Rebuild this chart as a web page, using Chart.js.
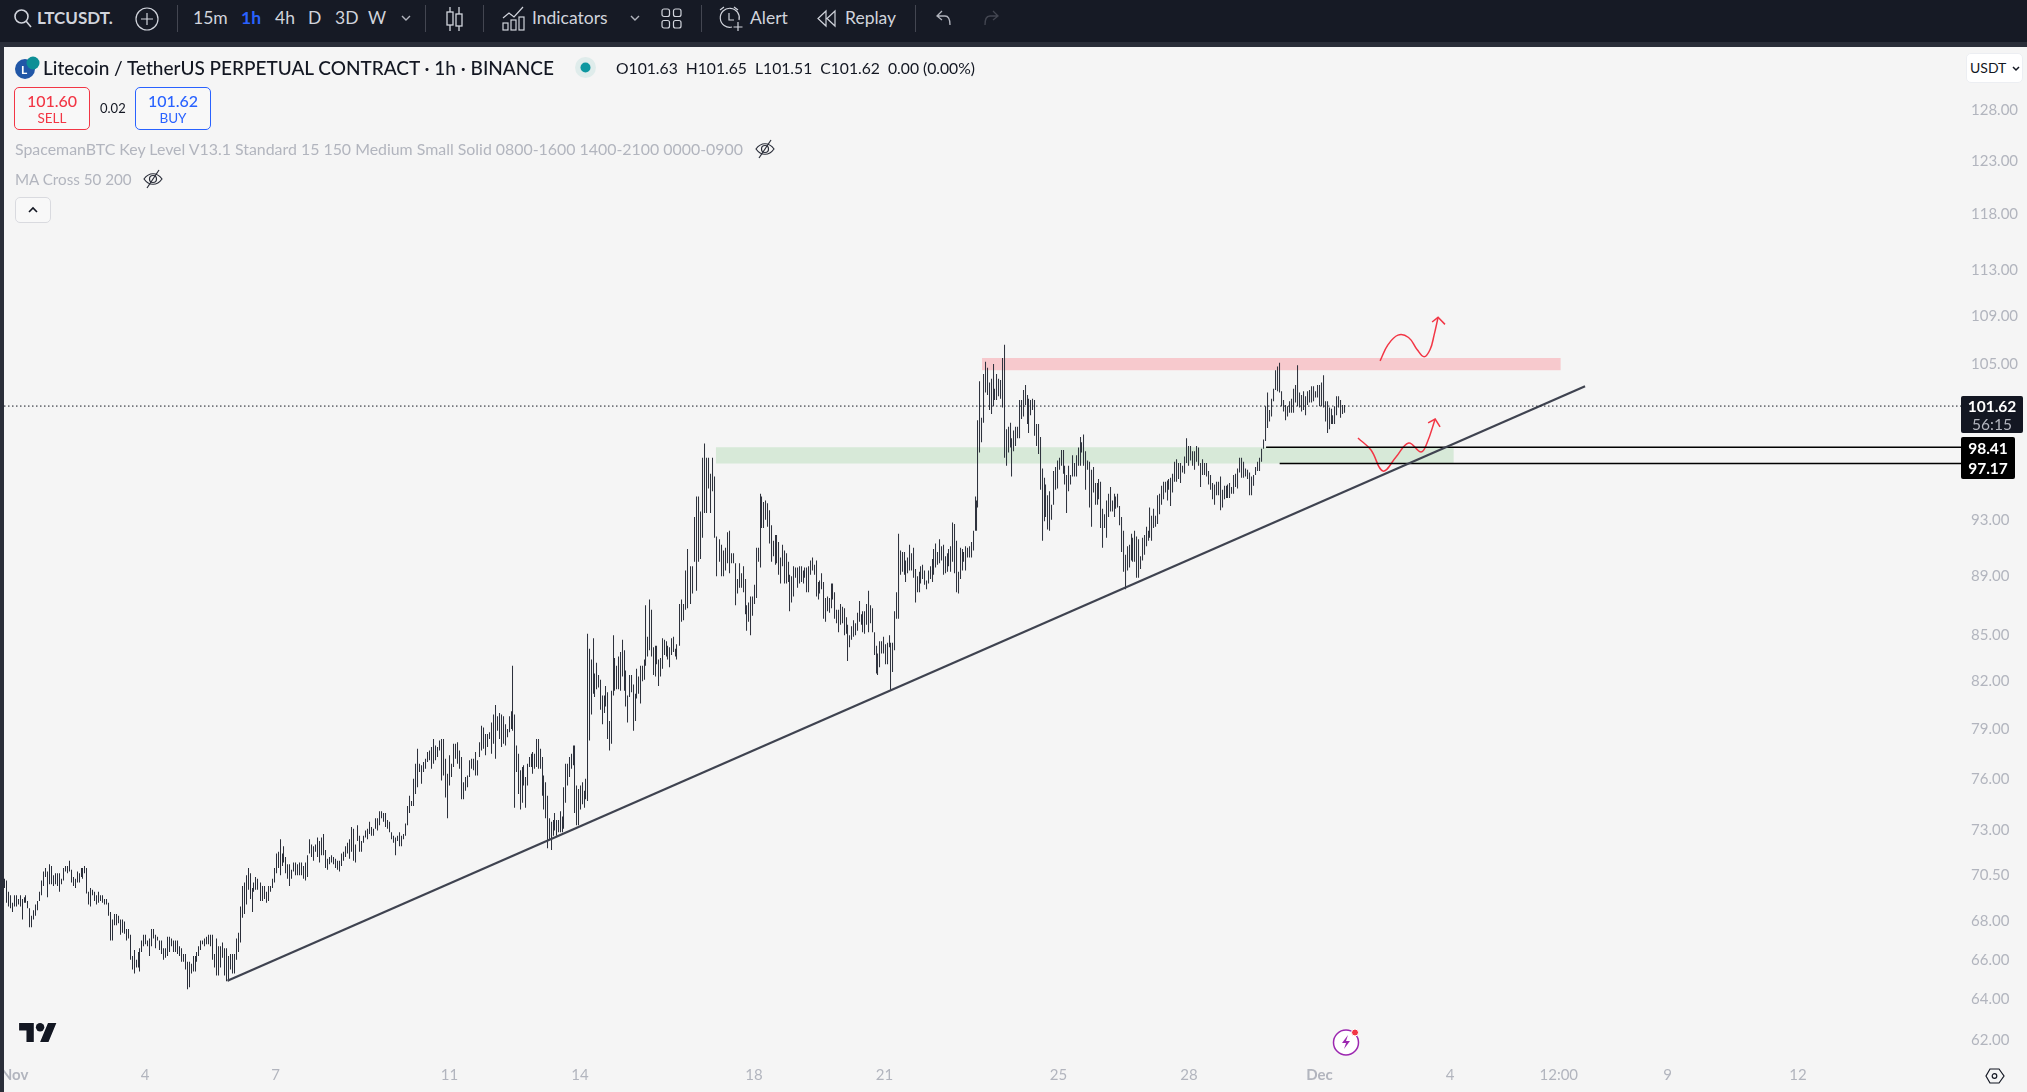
<!DOCTYPE html>
<html>
<head>
<meta charset="utf-8">
<title>LTCUSDT</title>
<script src="https://cdn.jsdelivr.net/npm/chart.js@4/dist/chart.umd.min.js"></script>
<style>
  html, body { margin: 0; padding: 0; background: #f5f5f5; overflow: hidden; }
  body { width: 2027px; height: 1092px; position: relative; font-family: Lato, "Open Sans", sans-serif; color: #131722; }
  canvas { position: absolute; left: 0; top: 0; }
  .t { position: absolute; white-space: nowrap; z-index: 3; line-height: 20px; }
  .bar-top { position: absolute; left: 0; top: 0; width: 2027px; height: 42px; background: #161a25; z-index: 2; }
  .bar-edge { position: absolute; left: 0; top: 42px; width: 2027px; height: 5px; background: #2a2e39; z-index: 2; }
  .bar-left { position: absolute; left: 0; top: 42px; width: 4px; height: 1050px; background: #2a2e39; z-index: 2; }
  .sep { position: absolute; top: 5px; width: 1px; height: 27px; background: #434651; z-index: 3; }
  .top { color: #d1d4dc; font-size: 17.500px; top: 8px; }
  .box { position: absolute; box-sizing: border-box; border-radius: 5px; z-index: 3; background: #f8f8f8; }
  .ind { color: #b2b5be; font-size: 15.900px; }
  .badge { position: absolute; z-index: 3; color: #fff; font-size: 16px; font-weight: 700; text-align: center; }
  svg { position: absolute; z-index: 3; overflow: visible; }
</style>
</head>
<body>
<canvas id="chart" width="2027" height="1092"></canvas>

<div class="bar-top"></div><div class="bar-edge"></div><div class="bar-left"></div>

<!-- toolbar -->
<svg style="left:13px;top:8px" width="20" height="20" fill="none" stroke="#d1d4dc" stroke-width="1.6"><circle cx="8.5" cy="8.5" r="6.5"/><path d="M13 13l5 6"/></svg>
<div class="t top" style="left:37px;font-weight:700;font-size:17px">LTCUSDT.</div>
<svg style="left:135px;top:7px" width="24" height="24" fill="none" stroke="#d1d4dc" stroke-width="1.2"><circle cx="12" cy="12" r="11"/><path d="M12 6v12M6 12h12"/></svg>
<div class="sep" style="left:177px"></div>
<div class="t top" style="left:193px">15m</div>
<div class="t top" style="left:241px;color:#2962ff;font-weight:700">1h</div>
<div class="t top" style="left:275px">4h</div>
<div class="t top" style="left:308px">D</div>
<div class="t top" style="left:335px">3D</div>
<div class="t top" style="left:368px">W</div>
<svg style="left:401px;top:15px" width="10" height="6" fill="none" stroke="#b2b5be" stroke-width="1.4"><path d="M1 1l4 4 4-4"/></svg>
<div class="sep" style="left:425px"></div>
<svg style="left:445px;top:6px" width="19" height="26" fill="none" stroke="#d1d4dc" stroke-width="1.3"><path d="M5 1v24M14 1v24"/><rect x="2" y="6" width="6" height="13" fill="#161a25"/><rect x="11" y="8" width="6" height="12" fill="#161a25"/></svg>
<div class="sep" style="left:483px"></div>
<svg style="left:502px;top:6px" width="23" height="25" fill="none" stroke="#d1d4dc" stroke-width="1.2"><path d="M1 12l6-5 5 4 9-10"/><rect x="1" y="17" width="5" height="7"/><rect x="9" y="14" width="5" height="10"/><rect x="17" y="11" width="5" height="13"/></svg>
<div class="t top" style="left:532px">Indicators</div>
<svg style="left:630px;top:15px" width="10" height="6" fill="none" stroke="#b2b5be" stroke-width="1.4"><path d="M1 1l4 4 4-4"/></svg>
<svg style="left:661px;top:8px" width="21" height="21" fill="none" stroke="#d1d4dc" stroke-width="1.2"><rect x="1" y="1" width="7.5" height="7.5" rx="2"/><rect x="12.5" y="1" width="7.5" height="7.5" rx="2"/><rect x="1" y="12.5" width="7.5" height="7.5" rx="2"/><rect x="12.5" y="12.5" width="7.5" height="7.5" rx="2"/></svg>
<div class="sep" style="left:701px"></div>
<svg style="left:718px;top:6px" width="25" height="26" fill="none" stroke="#d1d4dc" stroke-width="1.2"><path d="M14 21a9.5 9.5 0 1 1 7-7"/><path d="M11 7v7h5M2 4l4-3M20 4l-4-3M20 16v9M15.500 21h9"/></svg>
<div class="t top" style="left:750px">Alert</div>
<svg style="left:817px;top:10px" width="20" height="17" fill="none" stroke="#d1d4dc" stroke-width="1.2"><path d="M9 1L1 8.500 9 16zM18 1l-8 7.500 8 7.500z"/></svg>
<div class="t top" style="left:845px">Replay</div>
<div class="sep" style="left:915px"></div>
<svg style="left:936px;top:10px" width="16" height="16" fill="none" stroke="#b2b5be" stroke-width="1.3"><path d="M6 1L1 6l5 4M1 6h8c4 0 5 3 5 9"/></svg>
<svg style="left:983px;top:10px" width="16" height="16" fill="none" stroke="#434651" stroke-width="1.3"><path d="M10 1l5 5-5 4M15 6H7C3 6 2 9 2 15"/></svg>

<!-- header -->
<svg style="left:15px;top:56px" width="24" height="23"><circle cx="10" cy="13" r="10" fill="#2157a7"/><circle cx="18" cy="7" r="6.500" fill="#0d8f96"/><text x="6" y="18" fill="#fff" font-size="12" font-weight="700">L</text></svg>
<div class="t" style="left:43px;top:58px;font-size:19px;font-weight:500">Litecoin / TetherUS PERPETUAL CONTRACT · 1h · BINANCE</div>
<svg style="left:575px;top:57px" width="21" height="21"><circle cx="10.500" cy="10.500" r="10.500" fill="#dfeceb"/><circle cx="10.500" cy="10.500" r="5" fill="#0d97a0"/></svg>
<div class="t" style="left:616px;top:58px;font-size:15.700px">O101.63&nbsp; H101.65&nbsp; L101.51&nbsp; C101.62&nbsp; 0.00 (0.00%)</div>

<div class="box" style="left:14px;top:87px;width:76px;height:43px;border:1px solid #f23645"></div>
<div class="t" style="left:14px;top:91px;width:76px;text-align:center;color:#f23645;font-size:16px;font-weight:500">101.60</div>
<div class="t" style="left:14px;top:108px;width:76px;text-align:center;color:#f23645;font-size:13.500px">SELL</div>
<div class="t" style="left:100px;top:98px;font-size:13px">0.02</div>
<div class="box" style="left:135px;top:87px;width:76px;height:43px;border:1px solid #2962ff"></div>
<div class="t" style="left:135px;top:91px;width:76px;text-align:center;color:#2962ff;font-size:16px;font-weight:500">101.62</div>
<div class="t" style="left:135px;top:108px;width:76px;text-align:center;color:#2962ff;font-size:13.500px">BUY</div>

<div class="t ind" style="left:15px;top:139px">SpacemanBTC Key Level V13.1 Standard 15 150 Medium Small Solid 0800-1600 1400-2100 0000-0900</div>
<svg style="left:755px;top:139px" width="20" height="20" fill="none" stroke="#2a2e39" stroke-width="1.2"><path d="M1 10c5-7 13-7 18 0-5 7-13 7-18 0z"/><circle cx="10" cy="10" r="3.500"/><path d="M16 1L4 19"/></svg>
<div class="t ind" style="left:15px;top:169px;font-size:15.200px">MA Cross 50 200</div>
<svg style="left:143px;top:169px" width="20" height="20" fill="none" stroke="#2a2e39" stroke-width="1.2"><path d="M1 10c5-7 13-7 18 0-5 7-13 7-18 0z"/><circle cx="10" cy="10" r="3.500"/><path d="M16 1L4 19"/></svg>
<div class="box" style="left:15px;top:197px;width:36px;height:26px;border:1px solid #d9dadf"></div>
<svg style="left:28px;top:207px" width="10" height="6" fill="none" stroke="#131722" stroke-width="1.6"><path d="M1 5l4-4 4 4"/></svg>

<!-- price axis extras -->
<div class="box" style="left:1966px;top:53px;width:57px;height:30px;background:#fff;border:1px solid #eceef2"></div>
<div class="t" style="left:1970px;top:58px;font-size:14px">USDT</div>
<svg style="left:2012px;top:66px" width="8" height="5" fill="none" stroke="#131722" stroke-width="1.5"><path d="M1 1l3 3 3-3"/></svg>
<div class="badge" style="left:1961px;top:396px;width:62px;height:37px;background:#131722;border-radius:2px"></div>
<div class="t" style="left:1961px;top:396px;width:62px;text-align:center;color:#fff;font-size:15.500px;font-weight:700">101.62</div>
<div class="t" style="left:1961px;top:414px;width:62px;text-align:center;color:#b2b5be;font-size:15.500px">56:15</div>
<div class="badge" style="left:1961px;top:437px;width:54px;height:42px;background:#000;border-radius:2px"></div>
<div class="t" style="left:1961px;top:438px;width:54px;text-align:center;color:#fff;font-size:15.500px;font-weight:700">98.41</div>
<div class="t" style="left:1961px;top:458px;width:54px;text-align:center;color:#fff;font-size:15.500px;font-weight:700">97.17</div>

<!-- logo and corner icons -->
<svg style="left:19px;top:1021px" width="38" height="21" viewBox="0 0 36 20"><path d="M14 20H7V9H0V2h14zM28 20h-8l7.500-18h8z" fill="#131722" stroke="#fff" stroke-width="1" paint-order="stroke"/><circle cx="20" cy="6" r="4" fill="#131722"/></svg>
<svg style="left:1333px;top:1028px" width="27" height="28"><circle cx="13" cy="14.500" r="12.500" fill="#fff" stroke="#9c27b0" stroke-width="1.500"/><path d="M15 7l-6 8h4l-2 6 6-8h-4z" fill="#9c27b0"/><circle cx="22" cy="4.500" r="3.500" fill="#f23645" stroke="#fff"/></svg>
<svg style="left:1985px;top:1068px" width="20" height="16" fill="none" stroke="#131722" stroke-width="1.2"><path d="M5 1h9l5 7-5 7H5L1 8z"/><circle cx="9.500" cy="8" r="2.300"/></svg>

<script>
// axis labels
const priceTicks = [128, 123, 118, 113, 109, 105, 93, 89, 85, 82, 79, 76, 73, 70.5, 68, 66, 64, 62];
const timeTickHours = [0, 72, 144, 240, 312, 408, 480, 576, 648, 720, 792, 852, 912, 984]; // hours from Nov 1
const timeTickLabels = ["Nov", "4", "7", "11", "14", "18", "21", "25", "28", "Dec", "4", "12:00", "9", "12"];

// candle ranges [high, low]
const barsEarlyNov = [
  [70.3,69.8],[70.2,69.0],[69.6,68.8],[69.4,68.7],[69.0,68.5],[69.4,68.8],[69.4,68.8],[69.2,68.9],[69.4,68.8],[69.2,68.1],
  [69.3,69.0],[69.4,69.0],[69.1,68.7],[68.7,67.7],[68.3,67.7],[68.6,68.1],[68.9,68.3],[69.1,68.6],[69.6,69.1],[70.2,69.4],
  [70.7,69.9],[70.9,70.4],[70.7,69.3],[71.1,70.0],[71.0,70.0],[70.5,69.9],[70.6,70.0],[70.6,69.9],[70.6,69.6],[70.3,70.0],
  [70.9,70.2],[71.0,70.7],[71.0,70.6],[71.3,70.7],[70.8,70.1],[70.4,69.9],[70.3,69.8],[70.7,70.1],[70.6,70.1],[70.9,70.4],
  [70.9,70.3],[71.0,70.6],[70.9,69.5],[69.6,68.9],[69.8,68.8],[69.7,69.4],[69.6,69.1],[69.4,68.9],[69.6,69.0],[69.4,69.1],
  [69.4,69.0],[69.2,68.9],[69.2,68.9],[69.0,68.3],[68.5,67.0],[68.1,67.0],[68.4,67.8],[68.4,67.8],[68.3,67.9],[68.1,67.3],
  [68.1,67.4],[68.0,67.35],[67.6,67.0],[67.6,67.1],[67.3,66.0],[66.2,65.5],[66.5,65.3],[66.0,65.6],[66.4,65.6],[66.6,65.4],
  [67.0,66.4],[67.3,66.7],[67.3,66.8],[67.0,66.7],[67.1,66.2],[67.6,66.7],[67.6,67.1],[67.3,66.6],[67.2,67.0],[67.0,66.5],
  [67.0,66.3],[66.6,66.0],[66.6,66.1],[67.2,66.2],[67.2,66.4],[67.1,66.7],[67.0,66.4],[67.0,66.4],[67.0,66.3],[66.7,66.2],
  [66.6,65.9],[66.3,65.9],[66.3,65.5],[65.9,64.5],[65.9,64.6],[65.8,65.3],[66.2,65.4],[66.2,65.4],[66.4,65.9],[66.7,66.2],
  [67.0,66.5],[67.0,66.8],[67.1,66.7],[67.2,66.8],[67.3,66.8],[67.3,66.7],[67.3,66.0],[66.3,65.6],[67.1,65.2],[66.7,65.2],
  [66.7,65.6],[66.9,66.1],[66.6,65.2],[66.6,64.9],[66.2,64.9],[66.3,65.5],[66.3,65.3],[66.3,65.3],[67.1,66.0],[67.4,66.4],
  [68.8,66.9],[69.9,68.2],[70.1,68.4],[70.5,68.9],[70.9,69.7],[70.6,69.2],[69.8,68.5],[70.1,69.6],[70.4,69.7],[70.3,69.7],
];
const barsToMidNov = [
  [70.1,69.1],[69.9,69.1],[69.9,69.2],[69.6,69.0],[69.9,69.1],[69.9,69.6],[70.3,69.8],[70.9,70.1],[71.7,70.6],[71.8,70.9],
  [72.5,70.5],[71.7,71.0],[72.1,71.2],[71.5,70.6],[71.1,70.3],[71.1,69.9],[70.8,70.3],[71.2,70.7],[71.2,70.5],[71.1,70.5],
  [71.2,70.5],[71.2,70.5],[71.0,70.3],[71.2,70.2],[71.6,70.4],[72.5,71.7],[72.2,71.5],[72.1,71.3],[72.2,71.8],[72.6,71.5],
  [72.4,71.2],[72.6,71.6],[72.8,71.6],[71.9,70.9],[71.4,70.8],[71.5,71.1],[71.6,71.2],[71.5,71.1],[71.4,70.9],[71.3,70.8],
  [71.3,70.7],[71.7,71.0],[71.8,71.3],[72.1,71.5],[72.3,71.7],[72.5,71.4],[73.2,71.8],[73.1,71.3],[72.2,71.2],[73.3,72.4],
  [72.7,71.8],[72.4,71.8],[72.7,72.3],[73.0,72.6],[73.1,72.5],[73.5,72.8],[73.2,72.7],[73.1,72.7],[73.7,73.1],[73.7,73.0],
  [74.1,73.3],[74.1,73.7],[74.0,73.5],[74.0,73.2],[73.6,73.1],[73.5,72.9],[72.9,72.5],[72.7,72.3],[72.6,71.6],[72.7,72.4],
  [72.9,72.1],[72.7,72.1],[72.8,72.5],[73.4,72.7],[74.4,73.3],[75.0,74.0],[74.7,74.4],[76.0,74.4],[76.9,75.1],[77.8,75.5],
  [76.9,76.4],[76.8,75.7],[77.0,76.4],[77.2,76.6],[77.6,77.0],[77.7,77.1],[77.9,76.6],[78.4,76.9],[78.0,77.1],[77.9,77.3],
  [78.3,77.7],[78.4,75.9],[78.4,76.2],[77.2,74.9],[76.3,73.7],[77.4,75.6],[76.9,76.1],[78.1,76.7],[78.1,77.2],[78.2,76.9],
  [77.7,76.6],[77.3,74.8],[75.8,74.8],[76.1,75.3],[76.2,75.5],[77.1,76.1],[77.2,76.6],[77.2,76.5],[77.6,76.2],[77.1,76.2],
  [78.2,77.3],[79.2,77.7],[79.1,77.8],[78.7,77.4],[78.7,77.9],[78.8,78.4],[79.4,77.5],[79.9,78.1],[80.5,77.2],[79.8,78.9],
  [80.0,78.4],[79.9,77.9],[79.8,78.1],[79.3,78.0],[79.0,78.5],[79.8,78.8],[80.1,79.0],
];
const barsMidNov = [
  [83.0,78.9],[79.9,74.3],[78.0,76.4],[77.5,75.1],[76.5,74.2],[76.7,74.6],[76.8,75.6],[76.1,74.3],[76.9,75.6],[77.3,76.7],
  [77.5,76.7],[77.6,76.3],[77.5,76.6],[78.4,76.7],[78.4,76.6],[77.8,76.6],[77.3,75.0],[76.2,74.2],[75.8,73.7],[75.0,72.0],
  [73.7,72.5],[73.5,71.9],[73.6,72.7],[74.0,73.0],[73.6,72.7],[73.6,72.9],[74.1,72.9],[73.8,72.9],[75.5,73.1],[76.9,74.6],
  [76.9,75.6],[77.3,76.1],[77.5,76.6],[78.0,76.8],[78.0,74.0],[75.6,73.3],[75.4,73.3],[75.6,74.2],[75.8,74.5],[75.3,74.3],
  [76.0,74.8],[85.1,74.7],[84.1,78.3],[83.4,79.9],[84.8,81.2],[82.5,81.0],[83.2,81.5],[82.4,81.6],[82.1,80.2],[81.1,79.3],
  [81.1,80.0],[81.7,80.4],[81.3,78.4],[79.5,77.7],[81.4,78.1],[85.0,81.1],[83.5,81.4],[83.0,81.5],[83.6,81.5],[83.9,81.4],
  [84.7,82.3],[84.0,81.4],[82.7,80.4],[81.1,79.4],[82.4,81.0],[82.4,81.3],[81.8,78.9],[81.2,79.5],[82.8,80.9],[82.3,81.2],
  [83.0,80.6],[83.0,82.0],[83.4,82.1],[87.0,83.0],[84.9,83.6],[87.4,84.0],[86.7,83.6],[84.2,82.4],[84.3,82.3],[84.3,83.1],
  [83.4,81.7],[83.5,82.3],[84.8,82.8],[84.7,83.7],[84.6,83.6],[84.3,83.4],[84.2,82.9],[84.8,83.7],[84.9,83.9],[84.1,83.6],
  [84.4,83.4],
];
const barsFirstPeak = [
  [87.1,84.3],[87.4,85.9],[87.1,86.0],[89.4,86.7],[90.9,86.8],[89.7,87.1],[89.7,87.8],[93.2,90.0],[94.7,88.0],[94.7,90.0],
  [93.6,90.2],[97.6,91.7],[98.7,93.5],[97.6,93.5],[97.6,95.3],[96.4,93.5],[97.6,95.1],[96.2,91.7],[91.8,89.0],[91.6,90.0],
  [91.2,89.0],[90.8,89.0],[91.0,89.4],[92.1,89.9],[92.2,89.2],[90.6,89.9],[90.6,89.9],[89.9,87.0],[88.8,87.8],
];
const barsPullback = [
  [89.9,88.2],[89.2,88.2],[89.7,87.9],[88.8,86.4],[87.0,85.3],[87.2,85.9],[87.6,85.0],[87.6,86.3],[88.4,87.1],[91.0,87.5],
  [91.0,90.0],[94.9,89.6],[94.7,92.4],[94.3,92.4],[94.4,93.0],[94.2,92.5],[93.7,91.3],[92.6,90.0],[91.5,90.4],[91.9,89.8],
  [91.9,89.9],[91.4,89.1],[90.3,88.5],[91.2,89.7],[90.8,88.5],[90.6,88.5],[90.0,88.6],[89.1,86.6],[89.0,87.2],[89.7,87.6],
  [89.6,88.9],[89.6,88.2],[89.7,88.5],[89.7,88.6],[89.4,88.5],[89.6,88.9],[89.6,87.9],[89.7,87.9],[90.1,89.1],[90.3,89.4],
  [89.8,89.1],[90.1,87.6],[88.6,87.4],[88.7,87.8],[89.2,88.1],[88.6,86.1],[87.5,85.9],[87.6,86.6],[87.5,86.5],[88.5,86.8],
  [88.5,87.4],[87.9,86.1],[86.7,85.8],[86.7,85.2],[87.1,85.7],[86.9,85.8],[86.8,85.0],[86.2,85.1],[85.7,83.3],[85.0,84.2],
  [85.6,84.7],[86.0,84.9],[85.8,85.0],[86.5,85.3],[87.3,85.9],[86.4,85.7],[86.6,85.2],[86.6,85.1],[87.1,85.7],[88.0,85.2],
  [87.0,85.8],[86.8,85.2],[85.2,83.7],[84.3,82.5],[83.8,82.4],[84.6,82.9],[84.6,83.8],[84.9,83.8],[84.4,83.1],[84.5,83.1],
  [85.0,84.2],[84.5,81.4],[84.5,82.6],[86.6,84.0],[87.9,86.1],[92.0,86.1],[90.8,89.1],[90.7,89.3],[90.7,89.1],[90.1,88.6],
  [90.3,89.2],[91.2,89.4],[90.6,89.4],[91.0,88.9],[89.5,87.2],[89.0,87.9],[89.3,87.9],[89.7,88.5],[89.8,88.8],[89.4,88.4],
  [88.7,88.1],[89.4,88.5],[89.7,88.8],[90.2,88.6],[90.9,89.1],[91.3,89.6],[90.7,89.8],[91.6,89.9],[91.1,90.1],[91.2,89.1],
  [90.4,89.2],[90.6,89.3],[90.9,89.7],[91.1,89.3],[92.8,90.0],[92.7,89.2],[91.5,87.9],[89.3,87.8],[91.0,88.8],[90.9,89.4],
  [90.7,90.0],[91.1,89.4],[91.0,90.3],[91.1,90.3],[91.4,90.3],[92.2,90.8],[94.7,92.2],
];
const barsSecondPeak = [
  [94.4,92.2],[100.5,93.9],[103.6,98.0],[100.7,98.8],[104.2,100.3],[105.2,102.7],[104.7,102.5],[103.5,101.3],[103.8,101.0],[105.0,101.6],
  [103.0,102.1],[104.2,102.1],[103.8,102.4],[103.7,102.2],[105.5,101.5],[106.6,97.6],[99.8,97.0],[100.0,98.0],[100.3,98.4],[99.1,96.2],
  [99.7,98.1],[100.0,98.5],[100.0,99.1],[102.1,99.1],[102.1,100.6],[102.9,100.8],[103.3,101.7],[102.5,100.2],[102.2,99.5],[102.1,100.9],
  [102.2,101.3],[102.1,99.3],[100.2,98.5],[100.2,97.9],[99.2,95.2],[96.8,91.5],[96.1,92.9],[95.6,93.2],[94.8,92.3],[95.1,92.2],
  [94.1,93.0],[96.6,94.1],[96.9,95.2],[97.4,95.3],[97.6,96.7],[98.2,97.0],[98.2,96.4],[97.0,95.6],[96.3,93.5],[97.0,95.1],
  [96.3,95.6],[97.8,96.2],[97.2,96.2],[97.8,96.2],[98.4,97.0],[99.2,97.0],[98.8,98.0],[99.4,97.0],[98.1,95.2],[97.4,96.7],
  [97.3,93.9],[96.7,92.5],[96.9,95.0],[95.7,94.1],[95.7,94.1],[96.0,94.5],[95.8,92.4],[93.8,91.0],[93.4,92.4],[94.4,91.7],
  [94.9,93.2],[95.4,93.6],[94.4,93.6],[94.9,93.2],[94.7,93.8],[94.9,93.9],[94.0,92.6],[93.2,90.7],[92.2,89.3],[90.5,88.1],
  [91.1,89.4],[91.2,89.6],[92.0,90.1],[91.7,90.0],[92.2,90.0],[91.8,88.9],[91.6,88.9],[90.4,89.5],[91.7,90.1],[91.9,90.5],
  [92.5,91.1],[92.2,91.5],[93.9,91.7],[93.3,91.5],[93.8,92.4],[93.3,92.5],[94.8,92.7],[94.9,93.4],[95.5,94.1],[95.8,94.5],
  [95.8,95.0],[95.9,94.4],[96.0,95.2],[96.1,94.0],[96.4,95.0],
];
const barsLateNov = [
  [97.3,95.8],[97.5,95.8],[97.2,96.0],[97.2,95.7],[97.0,96.5],[97.7,96.4],[99.1,97.2],[98.5,97.0],[98.5,97.4],[98.1,97.0],
  [98.1,96.7],[98.5,97.3],[98.4,97.0],[97.2,95.4],[97.5,96.3],[97.2,96.3],[97.2,96.2],[96.6,95.6],[96.3,95.2],[95.7,94.5],
  [95.6,94.1],[95.8,94.8],[95.8,94.8],[96.2,93.7],[95.2,93.9],[95.5,94.5],[95.5,94.6],[95.6,94.6],[95.7,94.6],[95.4,94.9],
  [96.3,94.9],[96.4,95.4],[96.8,95.3],[97.6,96.5],[97.6,96.1],[97.3,96.1],[96.8,96.2],[96.7,96.0],[96.5,94.8],[96.2,94.8],
  [96.3,95.5],[96.9,96.3],[97.3,96.6],[97.6,96.6],[98.3,97.3],[99.0,98.3],[101.6,98.9],[102.7,99.9],[101.3,100.4],[102.2,100.8],
  [103.0,102.0],[104.5,102.9],[104.8,102.8],[105.1,102.7],[102.8,101.6],[102.1,101.2],[101.7,100.5],[101.6,100.8],[102.0,101.1],[102.2,101.1],
  [103.0,101.1],[103.3,101.9],[104.9,101.6],[102.7,101.5],[102.5,101.2],[102.8,101.3],[102.4,100.9],[102.8,101.7],[102.9,101.9],[103.2,101.9],
  [103.2,102.0],[102.8,102.3],[103.3,102.3],[103.3,101.6],[103.5,101.6],[104.1,101.5],[102.0,100.4],[102.0,99.5],[101.5,99.8],[101.4,100.2],
  [100.9,100.2],[101.6,100.2],[102.4,100.9],[102.4,101.5],[102.1,100.7],[101.7,101.0],[101.7,101.1],
];
const barSegments = [barsEarlyNov, barsToMidNov, barsMidNov, barsFirstPeak, barsPullback, barsSecondPeak, barsLateNov];
const segmentStartHours = [-5.6, 135.5, 275, 367, 400, 530.5, 640];
const segmentEndHours = [134.3, 274, 365.5, 399, 530, 639, 734];

// drawings on the chart
const lastPrice = 101.62;
const trendHours = [117.5, 866.5];
const trendPrices = [64.93, 103.2];
const levelHours = [690.5, 698];
const levelPrices = [98.41, 97.17];
const upperArrowHours = [753.4, 757.8, 763.3, 769.1, 773.8, 777.7, 781, 783.2, 785.4];
const upperArrowPrices = [105.26, 106.6, 107.4, 107.2, 106.2, 105.6, 106.2, 107.4, 108.9];
const upperHeadHours = [782.1, 785.4, 789.2];
const upperHeadPrices = [108.5, 108.9, 108.3];
const lowerArrowHours = [741.2, 748.4, 755, 762.2, 769.2, 776, 779.3, 783.8];
const lowerArrowPrices = [99.12, 98.2, 96.6, 97.67, 98.74, 98.05, 98.74, 100.6];
const lowerHeadHours = [779.9, 783.8, 786.5];
const lowerHeadPrices = [100.3, 100.6, 99.98];

const X_MIN = -5.79;
const X_MAX = 1073.9;
const HOUR_WIDTH = 1.8125; // screen px per hour on this x range

// [start hour, end hour, top price, bottom price, colour]
const zoneRed = [533.8, 853, 105.5, 104.5, "#f7c9cd"];
const zoneGreen = [387, 794, 98.41, 97.17, "#d7e9d8"];

// the platform snaps each candle onto a pixel column, do the same so wicks stay crisp
function snapHour(h) {
  const px = Math.floor((h - X_MIN) * HOUR_WIDTH) + 0.5;
  return X_MIN + px / HOUR_WIDTH;
}

function buildBars() {
  const out = [];
  barSegments.forEach((segment, s) => {
    const step = (segmentEndHours[s] - segmentStartHours[s]) / (segment.length - 1);
    segment.forEach((range, i) => {
      out.push({ x: snapHour(segmentStartHours[s] + i * step), y: [range[1], range[0]] });
    });
  });
  return out;
}

function pairs(hours, prices) {
  return hours.map((h, i) => ({ x: h, y: prices[i] }));
}

function lineSet(data, color, width, extra) {
  return Object.assign(
    { type: "line", data: data, borderColor: color, borderWidth: width, pointRadius: 0, order: 1, fill: false },
    extra
  );
}

// shaded boxes sit under the candles
const zonesPlugin = {
  id: "zones",
  beforeDatasetsDraw(chart) {
    const { ctx, scales } = chart;
    [zoneRed, zoneGreen].forEach((z) => {
      const left = scales.x.getPixelForValue(z[0]);
      const right = scales.x.getPixelForValue(z[1]);
      const top = scales.y.getPixelForValue(z[2]);
      const bottom = scales.y.getPixelForValue(z[3]);
      ctx.fillStyle = z[4];
      ctx.fillRect(left, top, right - left, bottom - top);
    });
  },
};

new Chart(document.getElementById("chart"), {
  type: "bar",
  plugins: [zonesPlugin],
  data: {
    datasets: [
      { type: "bar", data: buildBars(), backgroundColor: "#2a2e39", barThickness: 1, grouped: false, order: 2, inflateAmount: 0 },
      lineSet(pairs([X_MIN, X_MAX], [lastPrice, lastPrice]), "#131722", 1, { borderDash: [1.5, 2.5] }),
      lineSet(pairs(trendHours, trendPrices), "#3f4350", 2.2),
      lineSet(pairs([levelHours[0], X_MAX], [levelPrices[0], levelPrices[0]]), "#000000", 1.3),
      lineSet(pairs([levelHours[1], X_MAX], [levelPrices[1], levelPrices[1]]), "#000000", 1.3),
      lineSet(pairs(upperArrowHours, upperArrowPrices), "#f23645", 1.5, { tension: 0.4 }),
      lineSet(pairs(upperHeadHours, upperHeadPrices), "#f23645", 1.5),
      lineSet(pairs(lowerArrowHours, lowerArrowPrices), "#f23645", 1.5, { tension: 0.4 }),
      lineSet(pairs(lowerHeadHours, lowerHeadPrices), "#f23645", 1.5),
    ],
  },
  options: {
    responsive: false,
    animation: false,
    devicePixelRatio: 1,
    layout: { padding: { left: 4, top: 47, right: 0, bottom: 0 } },
    plugins: { legend: { display: false }, tooltip: { enabled: false } },
    scales: {
      x: {
        type: "linear",
        position: "bottom",
        offset: false,
        min: X_MIN,
        max: X_MAX,
        grid: { display: false, drawTicks: false },
        border: { display: false },
        afterBuildTicks: (scale) => {
          scale.ticks = timeTickHours.map((h) => ({ value: h }));
        },
        afterFit: (scale) => {
          scale.height = 32;
          scale.paddingLeft = 0;
          scale.paddingRight = 0;
        },
        ticks: {
          autoSkip: false,
          maxRotation: 0,
          minRotation: 0,
          padding: 6,
          color: "#b2b5be",
          font: (ctx) => ({
            family: "Lato",
            size: 15,
            weight: ctx.tick && (ctx.tick.value === 720 || ctx.tick.value === 0) ? "700" : "400",
          }),
          callback: (value) => timeTickLabels[timeTickHours.indexOf(value)],
        },
      },
      y: {
        type: "logarithmic",
        position: "right",
        min: 61.04,
        max: 134.44,
        grid: { display: false, drawTicks: false },
        border: { display: false },
        afterBuildTicks: (scale) => {
          scale.ticks = priceTicks.map((p) => ({ value: p }));
        },
        afterFit: (scale) => {
          scale.width = 66;
          scale.paddingTop = 0;
          scale.paddingBottom = 0;
        },
        ticks: {
          autoSkip: false,
          padding: 10,
          color: "#b2b5be",
          font: { family: "Lato", size: 15 },
          callback: (value) => value.toFixed(2),
        },
      },
    },
  },
});
</script>
</body>
</html>
